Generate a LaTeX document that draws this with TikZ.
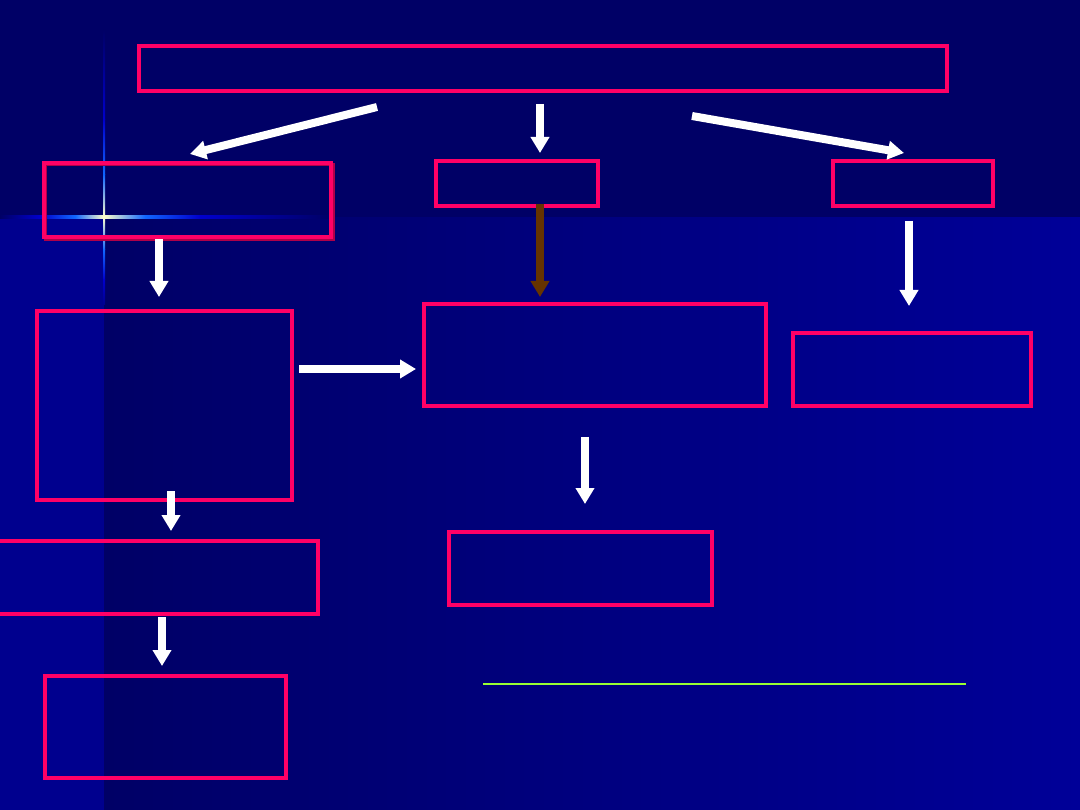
\documentclass[tikz,border=0pt]{standalone}
\usetikzlibrary{arrows.meta}
\definecolor{navy}{HTML}{000066}
\definecolor{lowblue}{HTML}{000098}
\definecolor{stripblue}{HTML}{00008E}
\definecolor{boxred}{HTML}{FF0066}
\definecolor{shadowred}{HTML}{B00048}
\definecolor{brownarr}{HTML}{663300}
\definecolor{linegreen}{HTML}{99FF33}
\definecolor{glow}{HTML}{FFFFCC}
\definecolor{sparkblue}{HTML}{1166FF}
\definecolor{dimblue}{HTML}{0000CC}
\begin{document}
\begin{tikzpicture}[x=1pt,y=-1pt,
  box/.style={draw=boxred, line width=4pt, inner sep=0pt, outer sep=0pt},
  arr/.style={draw=white, line width=8pt, -{Triangle[width=18pt,length=16pt]}},
  brarr/.style={draw=brownarr, line width=8pt, -{Triangle[width=18pt,length=16pt]}}]
\useasboundingbox (0,0) rectangle (1080,810);
% background
\fill[navy] (0,0) rectangle (1080,218);
\shade[left color=navy, right color=lowblue] (104,218) rectangle (1080,810);
\fill[stripblue] (0,218) rectangle (104,810);
% sparkle
\shade[left color=navy, right color=dimblue] (0,215.5) rectangle (40,218.5);
\shade[left color=dimblue, right color=sparkblue] (40,215.5) rectangle (75,218.5);
\shade[left color=sparkblue, right color=glow] (75,215.5) rectangle (104,218.5);
\shade[left color=glow, right color=sparkblue] (104,215.5) rectangle (145,218.5);
\shade[left color=sparkblue, right color=dimblue] (145,215.5) rectangle (200,218.5);
\shade[left color=dimblue, right color=navy] (200,215.5) rectangle (330,218.5);
\shade[top color=navy, bottom color=dimblue] (103,30) rectangle (105,120);
\shade[top color=dimblue, bottom color=sparkblue] (103,120) rectangle (105,175);
\shade[top color=sparkblue, bottom color=glow] (103,175) rectangle (105,217);
\shade[top color=glow, bottom color=sparkblue] (103,217) rectangle (105,250);
\shade[top color=sparkblue, bottom color=dimblue] (103,250) rectangle (105,280);
\shade[top color=dimblue, bottom color=stripblue] (103,280) rectangle (105,305);
% boxes
\draw[shadowred, line width=3pt] (45.5,164.5) rectangle (333.5,239.5);
\node[box, minimum width=808pt, minimum height=45pt] (top) at (543,68.5) {};
\node[box, minimum width=287pt, minimum height=74pt] (left) at (187.5,200) {};
\node[box, minimum width=162pt, minimum height=45pt] (mid) at (517,183.5) {};
\node[box, minimum width=160pt, minimum height=45pt] (right) at (913,183.5) {};
\node[box, minimum width=255pt, minimum height=189pt] (leftbig) at (164.5,405.5) {};
\node[box, minimum width=342pt, minimum height=102pt] (midbig) at (595,355) {};
\node[box, minimum width=238pt, minimum height=73pt] (rightbox) at (912,369.5) {};
\node[box, minimum width=328pt, minimum height=73pt] (leftwide) at (154,577.5) {};
\node[box, minimum width=263pt, minimum height=73pt] (midbot) at (580.5,568.5) {};
\node[box, minimum width=241pt, minimum height=102pt] (leftbot) at (165.5,727) {};
% arrow end points
\coordinate (a1s) at (377,107); \coordinate (a1e) at (190,154);
\coordinate (a2s) at (540,104); \coordinate (a2e) at (540,153);
\coordinate (a3s) at (692,116); \coordinate (a3e) at (904,153);
\coordinate (a4s) at (540,204); \coordinate (a4e) at (540,297);
\coordinate (a5s) at (159,239); \coordinate (a5e) at (159,297);
\coordinate (a6s) at (909,221); \coordinate (a6e) at (909,306);
\coordinate (a7s) at (299,369); \coordinate (a7e) at (416,369);
\coordinate (a8s) at (585,437); \coordinate (a8e) at (585,504);
\coordinate (a9s) at (171,491); \coordinate (a9e) at (171,531);
\coordinate (a10s) at (162,617); \coordinate (a10e) at (162,666);
\draw[arr] (a1s) -- (a1e);
\draw[arr] (a2s) -- (a2e);
\draw[arr] (a3s) -- (a3e);
\draw[brarr] (a4s) -- (a4e);
\draw[arr] (a5s) -- (a5e);
\draw[arr] (a6s) -- (a6e);
\draw[arr] (a7s) -- (a7e);
\draw[arr] (a8s) -- (a8e);
\draw[arr] (a9s) -- (a9e);
\draw[arr] (a10s) -- (a10e);
% green line
\coordinate (g1) at (483,684); \coordinate (g2) at (966,684);
\draw[linegreen, line width=1.5pt] (g1) -- (g2);
\end{tikzpicture}
\end{document}
